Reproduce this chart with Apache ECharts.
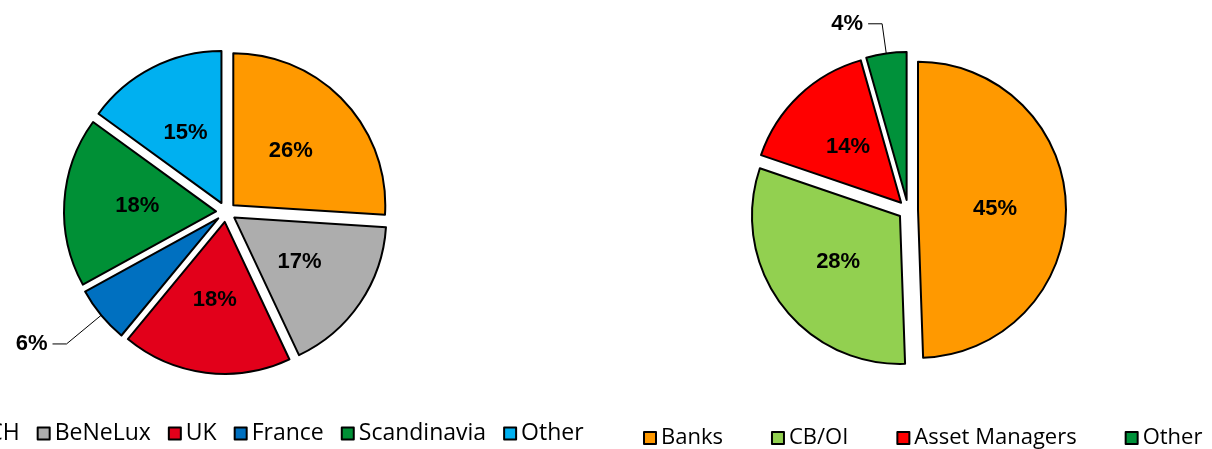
<!DOCTYPE html>
<html>
<head>
<meta charset="utf-8">
<script src="https://cdn.jsdelivr.net/npm/echarts@6/dist/echarts.min.js"></script>
<style>
  html, body { margin: 0; padding: 0; background: #fff; }
  #main { width: 1212px; height: 449px; }
</style>
</head>
<body>
<div id="main"></div>
<script>
// left pie: by region
var regionNames = ['DACH', 'BeNeLux', 'UK', 'France', 'Scandinavia', 'Other'];
var regionShares = [26, 17, 18, 6, 18, 15];
var regionColors = ['#FF9900', '#ADADAD', '#E2001A', '#0070C0', '#009036', '#00B0F0'];

// right pie: by investor type
var investorNames = ['Banks', 'CB/OI', 'Asset Managers', 'Other'];
var investorShares = [45, 28, 14, 4];
var investorColors = ['#FF9900', '#92D050', '#FF0000', '#00913A'];

// slices whose label sits outside with a leader line
var outsideLeft = 'France';
var outsideRight = 'Other';

function buildData(names, values, colors, outsideName, lineLen) {
    var out = [];
    for (var i = 0; i < names.length; i++) {
        var item = {
            name: names[i],
            value: values[i],
            selected: true,
            itemStyle: { color: colors[i] }
        };
        if (names[i] === outsideName) {
            item.label = { position: 'outside' };
            item.labelLine = {
                show: true,
                length: lineLen[0],
                length2: lineLen[1],
                lineStyle: { color: '#000', width: 1 }
            };
        }
        out.push(item);
    }
    return out;
}

var myChart = echarts.init(document.getElementById('main'), null, { renderer: 'canvas' });

var labelFont = {
    fontFamily: 'Liberation Sans, Arial, sans-serif',
    fontWeight: 'bold',
    fontSize: 22,
    color: '#000'
};

var legendText = {
    fontFamily: 'Open Sans, sans-serif',
    fontSize: 23,
    color: '#000'
};

var rightLegendData = [];
for (var j = 0; j < investorNames.length; j++) {
    rightLegendData.push({ name: investorNames[j], itemStyle: { color: investorColors[j] } });
}

var option = {
    backgroundColor: '#fff',
    animation: false,
    legend: [
        {
            data: regionNames,
            left: -66,
            top: 417,
            orient: 'horizontal',
            icon: 'rect',
            itemWidth: 12,
            itemHeight: 12,
            itemGap: 17,
            itemStyle: { borderColor: '#000', borderWidth: 2 },
            textStyle: legendText
        },
        {
            data: rightLegendData,
            left: 638,
            top: 422,
            orient: 'horizontal',
            icon: 'rect',
            itemWidth: 12,
            itemHeight: 12,
            itemGap: 48,
            itemStyle: { borderColor: '#000', borderWidth: 2 },
            textStyle: Object.assign({}, legendText, { fontSize: 22 })
        }
    ],
    series: [
        {
            name: 'Region',
            type: 'pie',
            center: [226, 212],
            radius: 152,
            startAngle: 90,
            clockwise: true,
            selectedMode: 'multiple',
            selectedOffset: 10,
            itemStyle: { borderColor: '#000', borderWidth: 2 },
            label: Object.assign({ position: 'inside', formatter: '{c}%' }, labelFont),
            labelLine: { show: false },
            emphasis: { scale: false },
            data: buildData(regionNames, regionShares, regionColors, outsideLeft, [45, 14])
        },
        {
            name: 'Investor',
            type: 'pie',
            center: [908, 210],
            radius: 148,
            startAngle: 90,
            clockwise: true,
            selectedMode: 'multiple',
            selectedOffset: 10,
            itemStyle: { borderColor: '#000', borderWidth: 2 },
            label: Object.assign({ position: 'inside', formatter: '{c}%' }, labelFont),
            labelLine: { show: false },
            emphasis: { scale: false },
            data: buildData(investorNames, investorShares, investorColors, outsideRight, [30, 14])
        }
    ]
};

myChart.setOption(option);
</script>
</body>
</html>
